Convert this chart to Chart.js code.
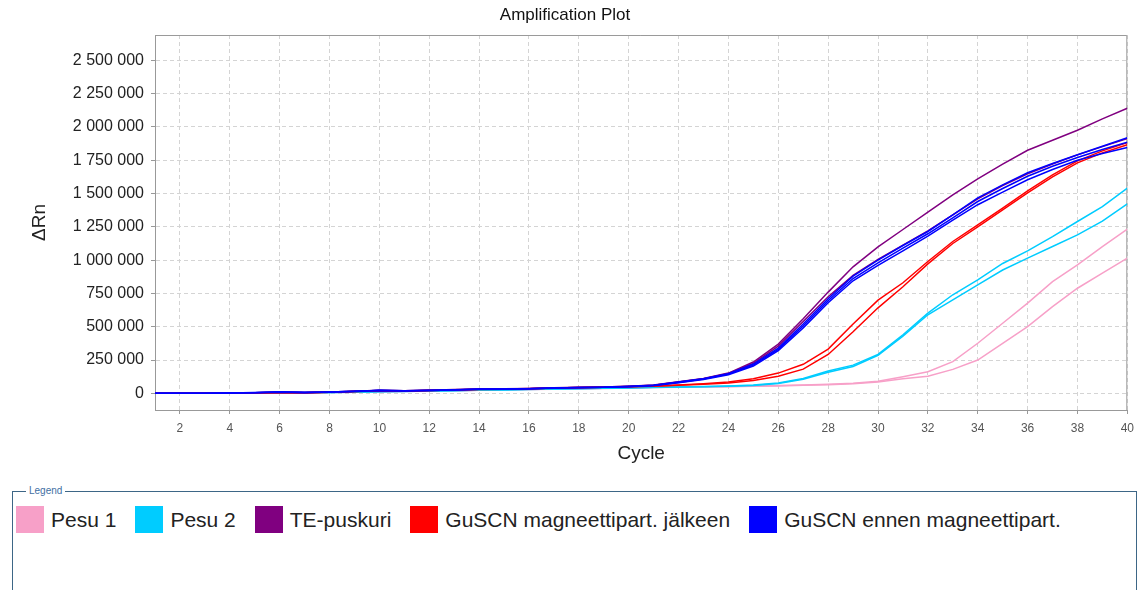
<!DOCTYPE html>
<html>
<head>
<meta charset="utf-8">
<title>Amplification Plot</title>
<script src="https://cdn.jsdelivr.net/npm/chart.js@4.4.1/dist/chart.umd.min.js"></script>
<style>
  html, body { margin: 0; padding: 0; background: #fff; }
  body { width: 1141px; height: 590px; position: relative; overflow: hidden; font-family: "Liberation Sans", Arial, sans-serif; }
  #mycanvas { position: absolute; left: 0; top: 0; }
  #legendbox { position: absolute; left: 12px; top: 491px; width: 1123px; height: 130px; border: 1px solid #3d6686; }
  #legendbox .cap { position: absolute; left: 13px; top: -7px; padding: 0 3px; background: #fff; font-size: 10px; line-height: 12px; color: #3f6fa3; }
  #legenditems { display: flex; align-items: center; padding: 14px 0 0 3px; }
  .item { display: flex; align-items: center; margin-right: 19px; font-size: 21px; color: #222; white-space: nowrap; }
  .sw { width: 28px; height: 27px; margin-right: 7px; }
</style>
</head>
<body>
<canvas id="mycanvas" width="1141" height="470"></canvas>
<div id="legendbox"><span class="cap">Legend</span><div id="legenditems"></div></div>
<script>
// cycles and axis ticks
var cycles = [1,2,3,4,5,6,7,8,9,10,11,12,13,14,15,16,17,18,19,20,21,22,23,24,25,26,27,28,29,30,31,32,33,34,35,36,37,38,39,40];
var xTicks = [2,4,6,8,10,12,14,16,18,20,22,24,26,28,30,32,34,36,38,40];
var yTicks = [0,250000,500000,750000,1000000,1250000,1500000,1750000,2000000,2250000,2500000];

// sample groups (legend)
var groupNames = ['Pesu 1', 'Pesu 2', 'TE-puskuri', 'GuSCN magneettipart. jälkeen', 'GuSCN ennen magneettipart.'];
var groupColors = ['#f7a0c8', '#00ccff', '#800080', '#ff0000', '#0000ff'];

// delta Rn per cycle, one array per well
var pesu1A = [0,0,1000,1000,2000,4000,3000,6000,9000,12000,14000,17000,20000,23000,26000,29000,32000,35000,38000,41000,45000,47000,49000,52000,55000,58000,62000,68000,75000,90000,125000,162000,238000,376000,526000,677000,839000,964000,1102000,1233000];
var pesu1B = [0,1000,0,2000,3000,3000,4000,7000,8000,11000,15000,16000,19000,24000,25000,28000,31000,34000,37000,40000,44000,46000,48000,50000,53000,56000,60000,65000,72000,85000,110000,128000,180000,250000,376000,501000,651000,789000,902000,1015000];
var pesu2A = [0,0,0,1000,2000,5000,4000,6000,10000,13000,14000,18000,21000,24000,27000,30000,33000,36000,39000,42000,45000,48000,51000,55000,62000,78000,112000,168000,212000,292000,440000,602000,740000,852000,975000,1070000,1177000,1290000,1402000,1541000];
var pesu2B = [0,0,1000,0,2000,4000,5000,7000,9000,12000,15000,17000,20000,25000,26000,29000,32000,35000,38000,41000,44000,47000,50000,53000,59000,74000,106000,158000,202000,286000,430000,590000,702000,814000,926000,1015000,1102000,1190000,1292000,1423000];
var teA = [0,0,1000,3000,5000,8000,6000,10000,16000,22000,20000,24000,28000,33000,34000,37000,42000,45000,48000,54000,62000,88000,112000,152000,235000,370000,560000,760000,950000,1100000,1230000,1360000,1490000,1610000,1720000,1825000,1900000,1975000,2060000,2140000];
var teB = [0,1000,1000,2000,4000,9000,7000,9000,15000,23000,19000,23000,27000,31000,32000,36000,41000,44000,47000,53000,61000,86000,110000,150000,225000,355000,540000,725000,885000,1005000,1112000,1220000,1340000,1460000,1560000,1648000,1722000,1790000,1852000,1912000];
var guAfterA = [0,0,1000,2000,4000,7000,5000,9000,14000,19000,18000,22000,26000,30000,31000,35000,40000,43000,46000,50000,55000,62000,72000,86000,110000,152000,218000,332000,520000,700000,830000,990000,1140000,1265000,1390000,1520000,1640000,1745000,1820000,1882000];
var guAfterB = [0,0,0,2000,3000,6000,5000,8000,13000,18000,17000,21000,25000,29000,30000,34000,39000,42000,45000,49000,54000,60000,68000,78000,97000,128000,182000,292000,462000,642000,800000,972000,1125000,1250000,1378000,1505000,1625000,1730000,1805000,1866000];
var guBeforeA = [0,0,1000,2000,6000,12000,8000,9000,14000,24000,20000,22000,26000,32000,31000,34000,40000,43000,45000,52000,60000,85000,110000,148000,220000,340000,520000,710000,880000,1000000,1110000,1215000,1340000,1468000,1565000,1656000,1725000,1791000,1855000,1919000];
var guBeforeB = [0,1000,0,3000,4000,9000,4000,10000,16000,21000,18000,23000,27000,30000,33000,35000,41000,42000,46000,50000,58000,80000,104000,140000,205000,320000,490000,680000,845000,960000,1070000,1180000,1300000,1416000,1510000,1603000,1680000,1750000,1800000,1845000];
var guBeforeC = [0,0,1000,2000,5000,10000,6000,10000,15000,22000,19000,22000,26000,31000,32000,35000,40000,43000,45000,51000,59000,82000,107000,145000,212000,330000,505000,695000,862000,980000,1090000,1198000,1318000,1440000,1538000,1630000,1705000,1770000,1830000,1885000];

// which group each well belongs to
var wells = [pesu1A, pesu1B, pesu2A, pesu2B, teA, teB, guAfterA, guAfterB, guBeforeA, guBeforeB, guBeforeC];
var wellGroup = [0, 0, 1, 1, 2, 2, 3, 3, 4, 4, 4];

var fontFamily = "'Liberation Sans', Arial, sans-serif";

var datasets = [];
for (var i = 0; i < wells.length; i++) {
  var pts = [];
  for (var j = 0; j < cycles.length; j++) {
    pts.push({x: cycles[j], y: wells[i][j]});
  }
  datasets.push({
    label: groupNames[wellGroup[i]],
    data: pts,
    borderColor: groupColors[wellGroup[i]],
    backgroundColor: groupColors[wellGroup[i]],
    borderWidth: 1.5,
    pointRadius: 0,
    tension: 0,
    fill: false,
    order: wells.length - i
  });
}

// html legend
var legendEl = document.getElementById('legenditems');
for (var g = 0; g < groupNames.length; g++) {
  var item = document.createElement('div');
  item.className = 'item';
  var sw = document.createElement('span');
  sw.className = 'sw';
  sw.style.background = groupColors[g];
  item.appendChild(sw);
  item.appendChild(document.createTextNode(groupNames[g]));
  legendEl.appendChild(item);
}

// top + right edge of the plot frame
var framePlugin = {
  id: 'frame',
  beforeDatasetsDraw: function(chart) {
    var a = chart.chartArea, c = chart.ctx;
    c.save();
    c.strokeStyle = '#9a9a9a';
    c.lineWidth = 1;
    c.beginPath();
    c.moveTo(a.left, a.top + 0.5);
    c.lineTo(a.right - 0.5, a.top + 0.5);
    c.lineTo(a.right - 0.5, a.bottom);
    c.stroke();
    c.restore();
  }
};

function spaced(v) {
  return String(v).replace(/\B(?=(\d{3})+(?!\d))/g, ' ');
}

var ctx = document.getElementById('mycanvas');
var myLineChart = new Chart(ctx, {
  type: 'line',
  data: { datasets: datasets },
  options: {
    responsive: false,
    animation: false,
    layout: { padding: { right: 11 } },
    plugins: {
      legend: { display: false },
      tooltip: { enabled: false },
      title: {
        display: true,
        text: 'Amplification Plot',
        color: '#111',
        font: { family: fontFamily, size: 17, weight: 'normal' },
        padding: { top: 5, bottom: 9.6 }
      }
    },
    scales: {
      x: {
        type: 'linear',
        min: 1,
        max: 40,
        afterBuildTicks: function(s) { s.ticks = xTicks.map(function(v) { return {value: v}; }); },
        afterFit: function(s) { s.height = 60; },
        grid: { color: '#d4d4d4', tickColor: '#999', tickLength: 4, tickBorderDash: [] },
        border: { color: '#999', width: 1, dash: [4, 3] },
        ticks: { color: '#555', padding: 7, maxRotation: 0, autoSkip: false, font: { family: fontFamily, size: 12 } },
        title: { display: true, text: 'Cycle', color: '#222', font: { family: fontFamily, size: 19 }, padding: { top: 0, bottom: 4.6 } }
      },
      y: {
        min: -125000,
        max: 2690000,
        afterBuildTicks: function(s) { s.ticks = yTicks.map(function(v) { return {value: v}; }); },
        afterFit: function(s) { s.width = 155; },
        grid: { color: '#d4d4d4', tickColor: '#999', tickLength: 4, tickBorderDash: [] },
        border: { color: '#999', width: 1, dash: [4, 3] },
        ticks: { color: '#222', padding: 7, font: { family: fontFamily, size: 16 }, callback: function(v) { return spaced(v); } },
        title: { display: true, text: 'ΔRn', color: '#222', font: { family: fontFamily, size: 19 }, padding: { top: 28.6, bottom: 0 } }
      }
    }
  },
  plugins: [framePlugin]
});
</script>
</body>
</html>
